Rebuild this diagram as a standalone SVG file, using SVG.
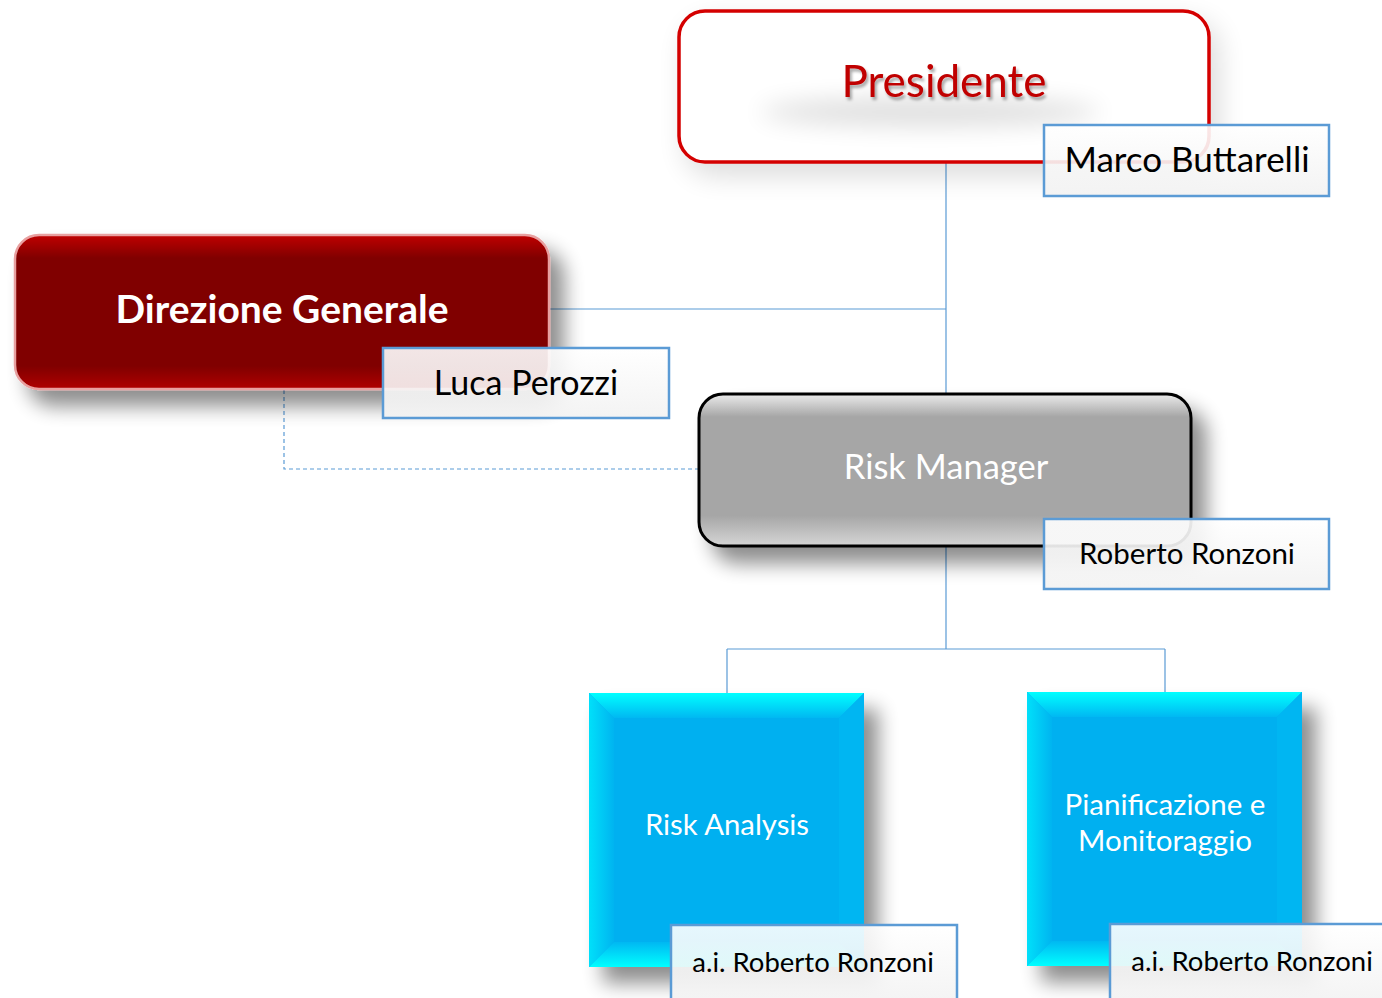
<svg xmlns="http://www.w3.org/2000/svg" width="1382" height="998" viewBox="0 0 1382 998">
<defs>
<style>
.conn{fill:none;stroke:#5b9bd5;stroke-width:1.2}
.dash{stroke-dasharray:4 3}
.lbl{fill:url(#lblg);fill-opacity:0.9;stroke:#5b9bd5;stroke-width:2.5}
.t{font-family:Lato,"Open Sans","Liberation Sans",sans-serif;text-anchor:middle}
.name{fill:#000}
.white{fill:#fff}
</style>
<linearGradient id="lblg" x1="0" y1="0" x2="0" y2="1"><stop offset="0" stop-color="#ffffff"/><stop offset="1" stop-color="#f2f2f2"/></linearGradient>
<linearGradient id="redg" x1="0" y1="0" x2="0" y2="1"><stop offset="0" stop-color="#c00000"/><stop offset="0.15" stop-color="#800000"/><stop offset="0.85" stop-color="#800000"/><stop offset="1" stop-color="#b00000"/></linearGradient>
<linearGradient id="grayg" x1="0" y1="0" x2="0" y2="1"><stop offset="0" stop-color="#ececec"/><stop offset="0.15" stop-color="#a6a6a6"/><stop offset="0.8" stop-color="#a6a6a6"/><stop offset="1" stop-color="#d6d6d6"/></linearGradient>
<linearGradient id="topb" x1="0" y1="0" x2="0" y2="1"><stop offset="0" stop-color="#00ffff"/><stop offset="1" stop-color="#00b8f2"/></linearGradient>
<linearGradient id="botb" x1="0" y1="1" x2="0" y2="0"><stop offset="0" stop-color="#00ffff"/><stop offset="1" stop-color="#00b8f2"/></linearGradient>
<linearGradient id="leftb" x1="0" y1="0" x2="1" y2="0"><stop offset="0" stop-color="#00e0fa"/><stop offset="1" stop-color="#00b4f0"/></linearGradient>
<filter id="sh" x="-20%" y="-20%" width="150%" height="160%"><feGaussianBlur in="SourceAlpha" stdDeviation="10"/><feOffset dx="14" dy="16"/><feComponentTransfer><feFuncA type="linear" slope="0.45"/></feComponentTransfer><feMerge><feMergeNode/><feMergeNode in="SourceGraphic"/></feMerge></filter>
<filter id="shsoft" x="-20%" y="-30%" width="140%" height="170%"><feGaussianBlur in="SourceAlpha" stdDeviation="14"/><feOffset dx="8" dy="12"/><feComponentTransfer><feFuncA type="linear" slope="0.14"/></feComponentTransfer><feMerge><feMergeNode/><feMergeNode in="SourceGraphic"/></feMerge></filter>
<filter id="blur" x="-50%" y="-100%" width="200%" height="300%"><feGaussianBlur stdDeviation="12"/></filter>
<filter id="tsh" x="-10%" y="-30%" width="130%" height="160%"><feGaussianBlur in="SourceAlpha" stdDeviation="1.5"/><feOffset dx="2" dy="3"/><feComponentTransfer><feFuncA type="linear" slope="0.35"/></feComponentTransfer><feMerge><feMergeNode/><feMergeNode in="SourceGraphic"/></feMerge></filter>
</defs>
<rect width="1382" height="998" fill="#fff"/>
<g id="connectors">
<path class="conn" d="M946 163V393M550 309H946"/>
<path class="conn dash" d="M284 390V469H698"/>
<path class="conn" d="M946 547V649M727 649H1165M727 649V693M1165 649V692"/>
</g>
<g id="presidente">
<rect x="679" y="11" width="530" height="151" rx="26" fill="#fff" stroke="#d40000" stroke-width="3.5" filter="url(#shsoft)"/>
<ellipse cx="930" cy="112" rx="170" ry="14" fill="#000" opacity="0.13" filter="url(#blur)"/>
<text class="t" x="944" y="97" font-size="44" fill="#c00000" filter="url(#tsh)">Presidente</text>
</g>
<g id="direzione">
<rect x="15" y="235" width="534" height="154" rx="24" fill="url(#redg)" stroke="#e8a0a0" stroke-width="2.5" filter="url(#sh)"/>
<text class="t white" x="282" y="323" font-size="39" font-weight="bold">Direzione Generale</text>
</g>
<g id="riskmanager">
<rect x="699" y="394" width="492" height="152" rx="24" fill="url(#grayg)" stroke="#000" stroke-width="3" filter="url(#sh)"/>
<text class="t white" x="946" y="479" font-size="34.5">Risk Manager</text>
</g>
<g id="riskanalysis">
<g filter="url(#sh)">
<rect x="589" y="693" width="275" height="274" fill="#00b0f0"/>
</g>
<polygon points="589,693 864,693 839,718 614,718" fill="url(#topb)"/>
<polygon points="589,693 614,718 614,942 589,967" fill="url(#leftb)"/>
<polygon points="589,967 614,942 839,942 864,967" fill="url(#botb)"/>
<polygon points="864,693 839,718 839,942 864,967" fill="#00b6f2"/>
<text class="t white" x="727" y="835" font-size="29.3">Risk Analysis</text>
</g>
<g id="pianificazione">
<g filter="url(#sh)">
<rect x="1027" y="692" width="275" height="274" fill="#00b0f0"/>
</g>
<polygon points="1027,692 1302,692 1277,717 1052,717" fill="url(#topb)"/>
<polygon points="1027,692 1052,717 1052,941 1027,966" fill="url(#leftb)"/>
<polygon points="1027,966 1052,941 1277,941 1302,966" fill="url(#botb)"/>
<polygon points="1302,692 1277,717 1277,941 1302,966" fill="#00b6f2"/>
<text class="t white" x="1165" y="815" font-size="29.5">Pianificazione e</text>
<text class="t white" x="1165" y="851" font-size="29.5">Monitoraggio</text>
</g>
<g id="lbl-marco">
<rect class="lbl" x="1044" y="125" width="285" height="71"/>
<text class="t name" x="1187" y="172" font-size="35">Marco Buttarelli</text>
</g>
<g id="lbl-luca">
<rect class="lbl" x="383" y="348" width="286" height="70"/>
<text class="t name" x="526" y="395" font-size="34">Luca Perozzi</text>
</g>
<g id="lbl-roberto">
<rect class="lbl" x="1044" y="519" width="285" height="70"/>
<text class="t name" x="1187" y="564" font-size="29.5">Roberto Ronzoni</text>
</g>
<g id="lbl-ai1">
<rect class="lbl" x="671" y="925" width="286" height="80"/>
<text class="t name" x="813" y="972" font-size="27.5">a.i. Roberto Ronzoni</text>
</g>
<g id="lbl-ai2">
<rect class="lbl" x="1110" y="924" width="286" height="80"/>
<text class="t name" x="1252" y="971" font-size="27.5">a.i. Roberto Ronzoni</text>
</g>
</svg>
